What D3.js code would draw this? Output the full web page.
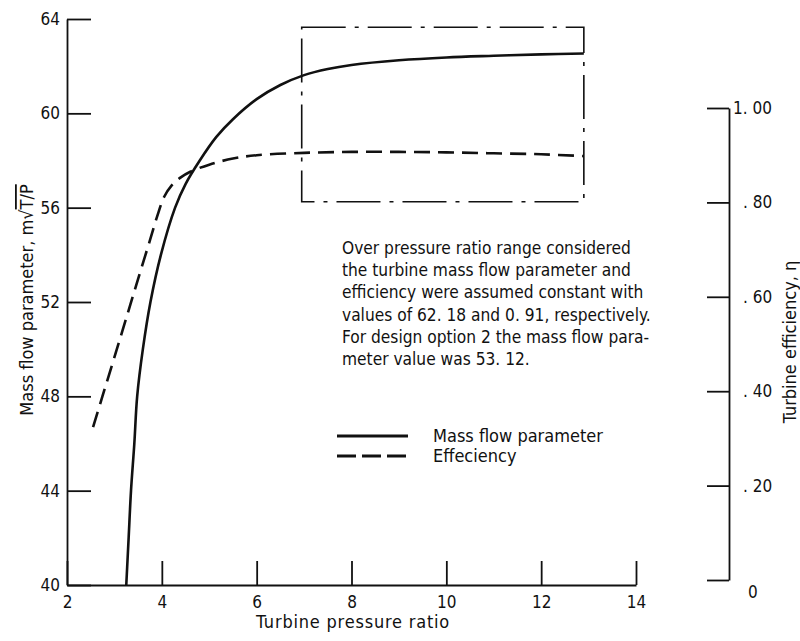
<!DOCTYPE html>
<html>
<head>
<meta charset="utf-8">
<script src="https://cdn.jsdelivr.net/npm/d3@7"></script>
<style>
  html, body { margin: 0; padding: 0; background: #fff; }
  svg { display: block; }
  text { font-family: "DejaVu Sans Condensed", "Liberation Sans Narrow", "DejaVu Sans", sans-serif; fill: #111; }
</style>
</head>
<body>
<svg id="chart" width="800" height="641"></svg>
<script>
// Turbine pressure ratio vs. mass flow parameter (left scale) and efficiency (right scale)
const massFlowRatio = [3.25, 3.3, 3.35, 3.42, 3.48, 3.6, 3.76, 3.98, 4.28, 4.5, 4.8, 5.15, 5.5, 6.0, 6.5, 7.0, 7.5, 8, 9, 10, 11, 12, 12.9];
const massFlowValue = [40, 42, 44, 46, 48, 50, 52, 54, 56, 57, 58, 59, 59.75, 60.6, 61.2, 61.62, 61.88, 62.05, 62.25, 62.37, 62.44, 62.5, 62.54];

const effRatio = [2.55, 2.75, 3.0, 3.25, 3.5, 3.75, 3.9, 4.05, 4.2, 4.4, 4.6, 5.0, 5.5, 6.0, 7.0, 8.0, 9.0, 10.0, 11.0, 12.0, 12.9];
const effValue = [0.324, 0.39, 0.472, 0.555, 0.638, 0.72, 0.77, 0.812, 0.835, 0.853, 0.865, 0.88, 0.893, 0.9, 0.905, 0.907, 0.907, 0.906, 0.904, 0.902, 0.898];

// Range considered (dash-dot frame), in ratio / mass-flow units
const rangeRatio = [6.95, 12.9];
const rangeMassFlow = [56.25, 63.65];

const xTicks = [2, 4, 6, 8, 10, 12, 14];
const yLeftTicks = [40, 44, 48, 52, 56, 60, 64];
const yRightTicks = [0, 0.2, 0.4, 0.6, 0.8, 1.0];
const yRightLabels = ["0", ". 20", ". 40", ". 60", ". 80", "1. 00"];

const noteLines = [
  "Over pressure ratio range considered",
  "the turbine mass flow parameter and",
  "efficiency were assumed constant with",
  "values of 62. 18 and 0. 91,  respectively.",
  "For design option 2 the mass flow para-",
  "meter value was 53. 12."
];
const legendLabels = ["Mass flow parameter", "Effeciency"];

const svg = d3.select("#chart");

const x = d3.scaleLinear().domain([2, 14]).range([67, 636]);
const yL = d3.scaleLinear().domain([40, 64]).range([585, 19]);
const yR = d3.scaleLinear().domain([0, 1]).range([580, 108]);
const rightAxisX = 729;

// Left axis
const gL = svg.append("g").attr("transform", `translate(${x(2)},0)`)
  .call(d3.axisLeft(yL).tickValues(yLeftTicks).tickFormat(d3.format("d"))
    .tickSizeInner(-24).tickSizeOuter(0).tickPadding(7));

// Bottom axis
const gB = svg.append("g").attr("transform", `translate(0,${yL(40)})`)
  .call(d3.axisBottom(x).tickValues(xTicks).tickFormat(d3.format("d"))
    .tickSizeInner(-24).tickSizeOuter(0).tickPadding(11));

// Right axis
const gR = svg.append("g").attr("transform", `translate(${rightAxisX},0)`)
  .call(d3.axisRight(yR).tickValues(yRightTicks)
    .tickFormat((d, i) => yRightLabels[i])
    .tickSizeInner(-22).tickSizeOuter(0).tickPadding(14));

[gL, gB, gR].forEach(g => {
  g.select(".domain").attr("stroke", "#111").attr("stroke-width", 1.8);
  g.selectAll(".tick line").attr("stroke", "#111").attr("stroke-width", 1.8);
  g.selectAll(".tick text").attr("font-size", 17).attr("fill", "#111")
    .style("font-family", "\"DejaVu Sans Condensed\", \"Liberation Sans Narrow\", \"DejaVu Sans\", sans-serif");
});
gR.selectAll(".tick text").filter(d => d === 1).attr("x", 4);
gR.selectAll(".tick text").filter(d => d === 0).attr("x", 19).attr("dy", "1.05em");

// Axis titles
svg.append("text")
  .attr("x", 353).attr("y", 628)
  .attr("text-anchor", "middle").attr("font-size", 18)
  .attr("letter-spacing", 0.8)
  .text("Turbine pressure ratio");

const leftTitle = svg.append("text")
  .attr("transform", "translate(33,300) rotate(-90)")
  .attr("text-anchor", "middle").attr("font-size", 18);
leftTitle.append("tspan").text("Mass flow parameter,  m");
leftTitle.append("tspan").text("√");
leftTitle.append("tspan").style("text-decoration", "overline").text("T/P");

svg.append("text")
  .attr("transform", "translate(796,342) rotate(-90)")
  .attr("text-anchor", "middle").attr("font-size", 18)
  .text("Turbine efficiency,  η");

// Dash-dot frame marking the range considered
svg.append("rect")
  .attr("x", x(rangeRatio[0])).attr("y", yL(rangeMassFlow[1]))
  .attr("width", x(rangeRatio[1]) - x(rangeRatio[0]))
  .attr("height", yL(rangeMassFlow[0]) - yL(rangeMassFlow[1]))
  .attr("fill", "none").attr("stroke", "#111").attr("stroke-width", 1.6)
  .attr("stroke-dasharray", "44,9,4,9");

// Curves
const massLine = d3.line()
  .x((d, i) => x(massFlowRatio[i]))
  .y(d => yL(d))
  .curve(d3.curveCatmullRom.alpha(0.5));
svg.append("path")
  .attr("d", massLine(massFlowValue))
  .attr("fill", "none").attr("stroke", "#111").attr("stroke-width", 2.6);

const effLine = d3.line()
  .x((d, i) => x(effRatio[i]))
  .y(d => yR(d))
  .curve(d3.curveCatmullRom.alpha(0.5));
svg.append("path")
  .attr("d", effLine(effValue))
  .attr("fill", "none").attr("stroke", "#111").attr("stroke-width", 2.6)
  .attr("stroke-dasharray", "16,8");

// Note
const note = svg.append("text").attr("font-size", 17.2);
noteLines.forEach((t, i) => {
  note.append("tspan").attr("x", 342).attr("y", 254 + i * 22.2).text(t);
});

// Legend
const legend = svg.append("g");
legendLabels.forEach((label, i) => {
  const ly = 436 + i * 20;
  legend.append("line")
    .attr("x1", 337).attr("x2", 408).attr("y1", ly).attr("y2", ly)
    .attr("stroke", "#111").attr("stroke-width", 3)
    .attr("stroke-dasharray", i === 0 ? null : "19,6");
  legend.append("text")
    .attr("x", 433).attr("y", ly).attr("dy", "0.35em")
    .attr("font-size", 18).text(label);
});
</script>
</body>
</html>
